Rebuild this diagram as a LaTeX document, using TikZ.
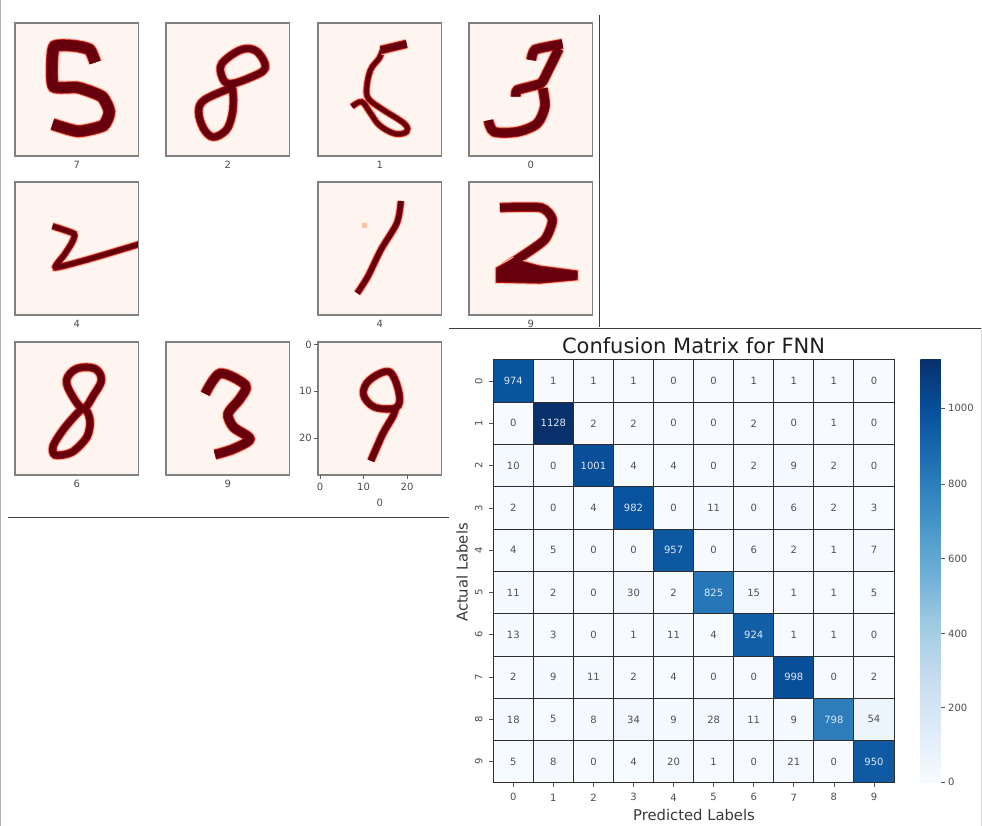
\documentclass[tikz,border=0pt]{standalone}
\usepackage{fontspec}
\setmainfont{DejaVu Sans}

\definecolor{blues0}{HTML}{F7FBFF}
\definecolor{blues1}{HTML}{DEEBF7}
\definecolor{blues2}{HTML}{C6DBEF}
\definecolor{blues3}{HTML}{9ECAE1}
\definecolor{blues4}{HTML}{6BAED6}
\definecolor{blues5}{HTML}{4292C6}
\definecolor{blues6}{HTML}{2171B5}
\definecolor{blues7}{HTML}{08519C}
\definecolor{blues8}{HTML}{08306B}
\definecolor{digitdark}{HTML}{67000D}
\definecolor{digitmid}{HTML}{C5171C}
\definecolor{digitlight}{HTML}{FCC3AB}
\definecolor{panelback}{HTML}{FFF5F0}
\definecolor{celldark}{HTML}{505050}
\definecolor{celllight}{HTML}{DCE8F5}

\pgfdeclareverticalshading{bluesbar}{100bp}{color(0bp)=(blues0); color(25bp)=(blues0); color(31.25bp)=(blues1); color(37.5bp)=(blues2); color(43.75bp)=(blues3); color(50bp)=(blues4); color(56.25bp)=(blues5); color(62.5bp)=(blues6); color(68.75bp)=(blues7); color(75bp)=(blues8); color(100bp)=(blues8)}

% name, x, y, label, label drop, strokes
\newcommand{\digitpanel}[6]{
\node[panelbox] (#1) at (#2,#3) {};
\begin{scope}[shift={(#1.north west)},x=4.41pt,y=-4.75pt]
\clip (0,0) rectangle (28,28);
#6
\end{scope}
\draw[panelframe] (#1.north west) rectangle (#1.south east);
\node[ticktext] (#1-label) at ([yshift=-#5pt]#1.south) {#4};
}

\begin{document}
\begin{tikzpicture}[x=1pt,y=-1pt,
  panelbox/.style={rectangle,anchor=north west,fill=panelback,minimum width=123.5pt,minimum height=133pt,inner sep=0pt,outer sep=0pt},
  panelframe/.style={draw=black!50,line width=1.1pt},
  digit/.style={draw=digitdark,line width=#1,line join=round,preaction={draw=digitmid,line width=#1+1.6pt,preaction={draw=digitlight,line width=#1+3.6pt}}},
  ticktext/.style={font=\fontsize{10}{11}\selectfont,text=black!70,inner sep=0pt},
  cellbox/.style={rectangle,draw=black!82,line width=0.9pt,minimum width=40.07pt,minimum height=42.3pt,inner sep=0pt,outer sep=0pt,font=\fontsize{10}{11}\selectfont},
  tickmark/.style={draw=black!65,line width=0.7pt},
  axistitle/.style={font=\fontsize{14.8}{16}\selectfont,text=black!78,inner sep=0pt},
  edgeline/.style={draw=black!75,line width=0.9pt}]
\useasboundingbox (0,0) rectangle (982,826);

\digitpanel{five}{15}{23}{7}{8.5}{
\draw[digit=10.5pt] plot[smooth,tension=0.35] coordinates {(18.2,8.3) (16.9,5.6) (13.4,4.8) (9,4.9) (8.4,8.5) (8.8,13.4) (14.3,13.6) (19.7,15.5) (21.4,18.7) (20,21.6) (14.3,22.8) (8.5,21.3)};}
\digitpanel{eighta}{166}{23}{2}{8.5}{
\draw[digit=6.5pt] plot[smooth cycle,tension=0.6] coordinates {(12.7,8.5) (17.1,5.6) (20.6,6) (22.5,9.5) (18.8,11.6) (14.4,12.8) (12.7,11.3)} plot[smooth,tension=0.6] coordinates {(14.9,12.7) (15.3,16.2) (14.9,19.7) (13.6,22.6) (10.7,24) (8.5,22.2) (7.4,18.7) (8.7,16.2) (14.4,13.8)};}
\digitpanel{onea}{318}{23}{1}{8.5}{
\draw[digit=4.5pt] plot[smooth,tension=0.6] coordinates {(14.8,5.3) (13.9,7.4) (11.9,9.9) (11,14.1) (11.7,16.2) (14.8,18.3) (19.6,21.2) (20.1,22.9) (17.4,23.3) (13.9,21.5) (11.7,18.7) (9.9,16.6) (7.7,17.6)};
\draw[digit=7pt] (20.1,4.4) -- (14.2,5.7);}
\digitpanel{threea}{469}{23}{0}{8.5}{
\draw[digit=8.5pt] plot[smooth,tension=0.3] coordinates {(21.2,4.4) (15,5.6) (14.1,7.8)} plot[smooth,tension=0.3] coordinates {(20.4,5.4) (18,9.9) (16.3,12.7) (11,14.1) (10.6,15.5)} plot[smooth,tension=0.5] coordinates {(16.7,13.8) (17.2,17.6) (15.4,21.2) (11,22.9) (5.7,22.9) (4.4,20.5)};}
\digitpanel{twoa}{15}{182}{4}{8.5}{
\draw[digit=5pt] plot[tension=0.3,smooth] coordinates {(8.5,9.3) (13.4,10.9) (12.9,12.8) (11.2,15.3) (9.2,18) (16.9,16.2) (28.5,13)};}
\digitpanel{oneb}{318}{182}{4}{8.5}{
\fill[digitlight] (9.9,8.6) rectangle (11,9.7);
\draw[digit=5pt] plot[smooth,tension=0.5] coordinates {(18.8,4) (17.9,8.6) (14.3,14.2) (11.3,19.9) (8.9,23.4)};}
\digitpanel{twob}{469}{182}{9}{8.5}{
\draw[digit=8pt] plot[smooth,tension=0.4] coordinates {(7,5.4) (16.3,5.4) (18.9,7.9) (17.2,12.1) (11.9,15.7) (8,18)};
\draw[digit=2.5pt,fill=digitdark] (6.5,18.3) -- (10,16.5) -- (16,18) -- (24.2,19) -- (24.2,20.3) -- (16,21) -- (6.5,20.8) -- cycle;
\draw[draw=digitdark,line width=8pt] (11.9,15.7) -- (9,17.8);}
\digitpanel{eightb}{15}{342}{6}{8.5}{
\draw[digit=6.5pt] plot[smooth cycle,tension=0.6] coordinates {(11.7,8) (14,5.6) (18.1,5.6) (19.6,8) (17.8,11.2) (15.5,14) (12.9,11.2)} plot[smooth cycle,tension=0.5] coordinates {(15.5,14) (17,16.5) (16.3,20) (12.9,23.2) (9.1,23.8) (8.7,21.8) (11.4,17.9)};}
\digitpanel{threeb}{166}{342}{9}{8.5}{
\draw[digit=8.5pt] plot[smooth,tension=0.5] coordinates {(8.9,10.9) (12.3,6.6) (18,9.1) (16.8,11.9) (14.1,15.1) (15.3,17.9) (19,20.4) (15.3,22.5) (11.1,23.7)};}
\digitpanel{nine}{318}{342}{0}{27.5}{
\draw[digit=6pt] plot[smooth cycle,tension=0.6] coordinates {(16.2,6.3) (18.4,10.9) (17.7,13.8) (12.8,13.7) (10.3,11) (11.7,8)} plot[smooth,tension=0.5] coordinates {(17.7,13.8) (16.9,15.8) (14.7,19.3) (12,25)};}

\foreach \tickval/\tickpos in {0/344.5,10/391,20/438} {
\draw[tickmark] (nine.west |- 0,\tickpos) -- ++(-4,0);
\node[ticktext,anchor=east] (ninerow-\tickval) at (312,\tickpos) {\tickval};
}
\foreach \tickval/\tickpos in {0/320,10/363.5,20/407} {
\draw[tickmark] (\tickpos,474.5) -- ++(0,4);
\node[ticktext] (ninecol-\tickval) at (\tickpos,487) {\tickval};
}

\draw[edgeline] (599,15) -- (599,327);
\draw[edgeline] (449,328) -- (982,328);
\draw[edgeline] (8,517.5) -- (449,517.5);
\draw[draw=black!30,line width=1pt] (0.5,0) -- (0.5,826);
\draw[draw=black!15,line width=1pt] (981.5,328) -- (981.5,826);

\node[axistitle,font=\fontsize{21}{24}\selectfont,text=black!88] (cmtitle) at (693.5,345.5) {Confusion Matrix for FNN};

\foreach \row [count=\r from 0] in {
{974,1,1,1,0,0,1,1,1,0},
{0,1128,2,2,0,0,2,0,1,0},
{10,0,1001,4,4,0,2,9,2,0},
{2,0,4,982,0,11,0,6,2,3},
{4,5,0,0,957,0,6,2,1,7},
{11,2,0,30,2,825,15,1,1,5},
{13,3,0,1,11,4,924,1,1,0},
{2,9,11,2,4,0,0,998,0,2},
{18,5,8,34,9,28,11,9,798,54},
{5,8,0,4,20,1,0,21,0,950}} {
\foreach \val [count=\c from 0] in \row {
\pgfmathsetmacro\stopval{\val/1128*8}
\pgfmathtruncatemacro\stoplow{min(floor(\stopval),7)}
\pgfmathtruncatemacro\stophigh{\stoplow+1}
\pgfmathtruncatemacro\stoppct{100*(\stopval-\stoplow)}
\colorlet{cellfill}{blues\stophigh!\stoppct!blues\stoplow}
\ifnum\val>600 \def\celltext{celllight}\else \def\celltext{celldark}\fi
\node[cellbox,fill=cellfill,text=\celltext] (cell-\r-\c) at ({513.3+40.07*\c},{381+42.3*\r}) {\val};
}
}

\foreach \n in {0,...,9} {
\draw[tickmark] (cell-\n-0.west) -- ++(-4,0);
\node[ticktext,rotate=90] (rowlabel-\n) at ([xshift=-14.5pt]cell-\n-0.west) {\n};
\draw[tickmark] (cell-9-\n.south) -- ++(0,4);
\node[ticktext] (collabel-\n) at ([yshift=-14.5pt]cell-9-\n.south) {\n};
}

\node[axistitle] (predicted) at (694,814.5) {Predicted Labels};
\node[axistitle,rotate=90] (actual) at (462,572.5) {Actual Labels};

\node[rectangle,minimum width=20.5pt,minimum height=423pt,inner sep=0pt,outer sep=0pt,shading=bluesbar] (colorbar) at (930.5,570.5) {};
\foreach \barval/\barpos in {0/782,200/707.5,400/633.5,600/558.5,800/484,1000/408} {
\draw[tickmark] (colorbar.east |- 0,\barpos) -- ++(4,0);
\node[ticktext,anchor=west] (barlabel-\barval) at (948,\barpos) {\barval};
}
\end{tikzpicture}
\end{document}
